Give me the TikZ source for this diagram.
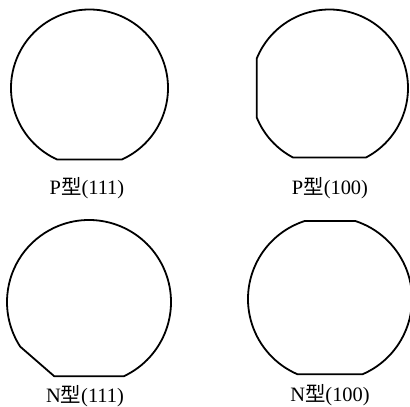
\documentclass[tikz,border=0pt]{standalone}
\usepackage{fontspec}
\setmainfont{Liberation Serif}
\newfontfamily\cjk{Noto Sans CJK SC}
\usetikzlibrary{positioning}

\begin{document}
\begin{tikzpicture}[
    x=1bp, y=1bp,
    wafer/.style={draw=black, line width=1.8pt, line join=round},
    caption/.style={font=\fontsize{20.5}{24}\selectfont, inner sep=0pt}
]
\useasboundingbox (0,0) rectangle (410,407);

% Wafer centres
\coordinate (p111) at (89.5,319);
\coordinate (p100) at (329.5,319);
\coordinate (n111) at (89,105);
\coordinate (n100) at (330,108);

% P-type (111): primary flat only
\draw[wafer] (p111) ++(294.5:78.5)
    arc[start angle=294.5, end angle=605.5, radius=78.5] -- cycle;

% P-type (100): primary flat + secondary flat at 90 degrees
\draw[wafer] (p100) ++(202:78.5)
    arc[start angle=202, end angle=242.3, radius=78.5]
    -- ([shift={(297.7:78.5)}]p100)
    arc[start angle=297.7, end angle=518, radius=78.5] -- cycle;

% N-type (111): primary flat + secondary flat at 45 degrees
\draw[wafer] (n111) ++(295:82)
    arc[start angle=295, end angle=573, radius=82]
    -- ([shift={(245:82)}]n111) -- cycle;

% N-type (100): primary flat + secondary flat at 180 degrees
\draw[wafer] (n100) ++(107.8:82)
    arc[start angle=107.8, end angle=246.7, radius=82]
    -- ([shift={(293.3:82)}]n100)
    arc[start angle=293.3, end angle=432.2, radius=82] -- cycle;

% Captions
\node[caption] (lp111) at (87,219)  {P{\cjk 型}(111)};
\node[caption] (lp100) at (330,219) {P{\cjk 型}(100)};
\node[caption] (ln111) at (85,11)   {N{\cjk 型}(111)};
\node[caption] (ln100) at (330,12)  {N{\cjk 型}(100)};

\end{tikzpicture}
\end{document}
